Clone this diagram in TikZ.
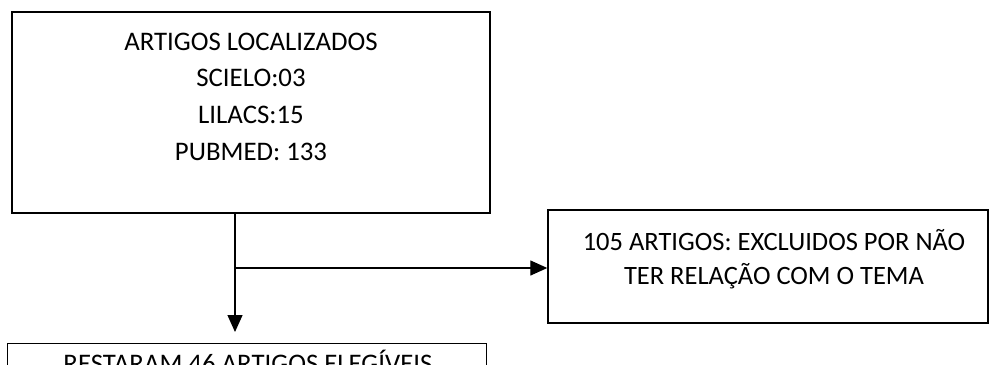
\documentclass[tikz,border=0pt]{standalone}
\usepackage{fontspec}
\setmainfont{Carlito}
\usetikzlibrary{arrows.meta}
\begin{document}
\begin{tikzpicture}[x=1pt,y=-1pt,
  box/.style={draw=black,line width=1.4pt,inner sep=0pt,fill=none},
  txt/.style={inner sep=0pt,align=center,font=\fontsize{26.8}{36.8}\selectfont},
  conn/.style={line width=1.3pt,-{Triangle[length=17pt,width=15pt]}}]
\useasboundingbox (0,0) rectangle (992,364);
\clip (0,0) rectangle (992,364);
\node[box,minimum width=478pt,minimum height=201pt] (top) at (251,112.5) {};
\node[box,minimum width=440pt,minimum height=113pt] (right) at (768,266.5) {};
\node[box,minimum width=479pt,minimum height=60pt,anchor=north west] (bottom) at (7,343) {};
\node[txt,anchor=base] (toptxt) at (251,160.5) {ARTIGOS LOCALIZADOS\\SCIELO:03\\LILACS:15\\PUBMED: 133};
\node[txt,anchor=base,font=\fontsize{26.5}{33.5}\selectfont] (righttxt) at (774,284) {105 ARTIGOS: EXCLUIDOS POR NÃO\\TER RELAÇÃO COM O TEMA};
\node[txt,anchor=base] (bottomtxt) at (248,372) {RESTARAM 46 ARTIGOS ELEGÍVEIS};
\coordinate (j) at (235,268);
\draw[line width=1.3pt] (top.south -| j) -- (j);
\draw[conn] (j) -- (j -| right.west);
\draw[conn] (j) -- ([yshift=11pt]bottom.north -| j);
\end{tikzpicture}
\end{document}
